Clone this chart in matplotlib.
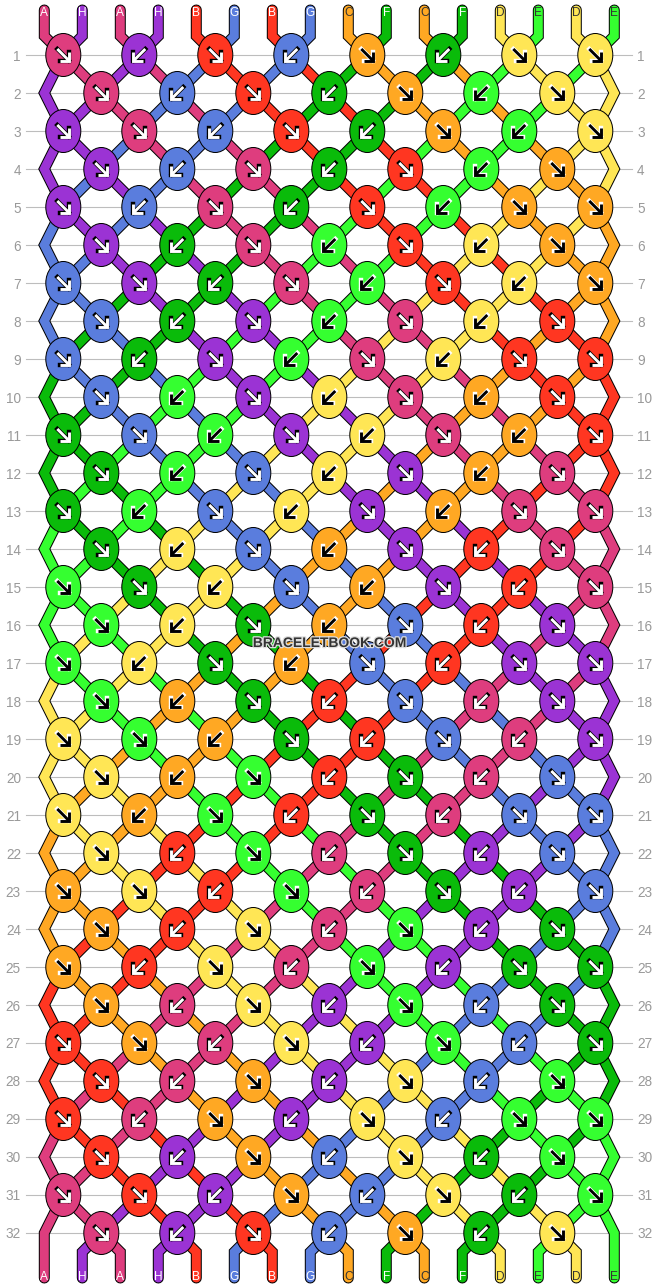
#!/usr/bin/env python3
# -*- coding: utf-8 -*-

import matplotlib
matplotlib.use("Agg")
import matplotlib.pyplot as plt
import matplotlib.patheffects as pe
from matplotlib.patches import Ellipse

WIDTH, HEIGHT = 658, 1288

# strings as they enter at the top
STRINGS = ["A", "H", "A", "H", "B", "G", "B", "G", "C", "F", "C", "F", "D", "E", "D", "E"]

STRING_COLORS = {
    "A": "#de3d7e",
    "H": "#9b33d4",
    "B": "#ff3621",
    "G": "#5a7ddd",
    "C": "#ffa823",
    "F": "#0abb0a",
    "D": "#ffe655",
    "E": "#35ff30",
}
# letters that sit on a light colour get black text and black arrows
LIGHT_STRINGS = ["C", "D", "E"]

# one string per row, ">" is a knot pointing down right, "<" down left
ROW_ARROWS = [
    "><><><>>", "><><><>", ">><><><>", "><><><>",
    "><><><>>", "><><><>", ">><><><>", "><><><>",
    "><><><>>", "><><><>", ">><><><>", "><><><>",
    "><><><>>", "><><><>", ">><><><>", "><><><>",
    "><><><>>", "><><><>", ">><><><>", "><><><>",
    "><><><>>", "><><><>", ">><><><>", "><><><>",
    "><><><>>", "><><><>", ">><><><>", "><><><>",
    "><><><>>", "><><><>", ">><><><>", "><><><>",
]

WATERMARK = "BRACELETBOOK.COM"

# layout in pixels
X0 = 44.3
STEP_X = 38.0
Y0 = 55.0
STEP_Y = 38.0
STRING_W = 9.0
EDGE_W = 1.0
PX = 72.0 / 100.0  # pixels to points at dpi 100


def walk_strings():
    """Follow every string through the knots, returns paths and knots."""
    order = list(range(len(STRINGS)))
    paths = [[(X0 + STEP_X * i, 10.0), (X0 + STEP_X * i, 36.0)] for i in order]
    knots = []
    for r, row in enumerate(ROW_ARROWS):
        y = Y0 + STEP_Y * r
        start = 0 if r % 2 == 0 else 1
        for k, arrow in enumerate(row):
            p = start + 2 * k
            left, right = order[p], order[p + 1]
            x = X0 + STEP_X * (p + 0.5)
            paths[left].append((x, y))
            paths[right].append((x, y))
            top = left if arrow == ">" else right
            knots.append((x, y, STRINGS[top], arrow))
            order[p], order[p + 1] = right, left
        if start == 1:
            paths[order[0]].append((X0, y))
            paths[order[-1]].append((X0 + STEP_X * (len(STRINGS) - 1), y))
    return order, paths, knots


def draw_grid(ax):
    for r in range(len(ROW_ARROWS)):
        y = Y0 + STEP_Y * r
        ax.plot([26, 632], [y, y], color="#bdbdbd", lw=1.1 * PX, zorder=1)
        ax.text(21, y, str(r + 1), ha="right", va="center_baseline", color="#999999",
                fontsize=9.8, zorder=1)
        ax.text(637, y, str(r + 1), ha="left", va="center_baseline", color="#999999",
                fontsize=9.8, zorder=1)


def draw_arrow(ax, x, y, arrow, letter):
    s = 1 if arrow == ">" else -1
    light = letter in LIGHT_STRINGS
    fill = "black" if light else "white"
    halo = "white" if light else "black"
    parts = (
        ([x - s * 6, x + s * 5.5], [y - 6, y + 5.5]),
        ([x - s * 3.5, x + s * 6, x + s * 6], [y + 6, y + 6, y - 3.5]),
    )
    # halo first so it never cuts through the white or black fill
    for xs, ys in parts:
        ax.plot(xs, ys, color=halo, lw=4.4 * PX, zorder=5,
                solid_capstyle="projecting", solid_joinstyle="miter")
    for xs, ys in parts:
        ax.plot(xs, ys, color=fill, lw=2.9 * PX, zorder=6,
                solid_capstyle="butt", solid_joinstyle="miter")


def draw_chart():
    fig = plt.figure(figsize=(WIDTH / 100, HEIGHT / 100), dpi=100)
    ax = fig.add_axes([0, 0, 1, 1])
    ax.set_xlim(0, WIDTH)
    ax.set_ylim(HEIGHT, 0)
    ax.axis("off")

    plt.rcParams["font.family"] = ["Liberation Sans", "DejaVu Sans"]

    order, paths, knots = walk_strings()
    last_y = Y0 + STEP_Y * (len(ROW_ARROWS) - 1)

    # tails below the last row
    for p, s in enumerate(order):
        x = X0 + STEP_X * p
        if 0 < p < len(order) - 1:
            paths[s].append((x, last_y + 19))
        paths[s].append((x, 1278))

    draw_grid(ax)

    for s, path in enumerate(paths):
        xs = [pt[0] for pt in path]
        ys = [pt[1] for pt in path]
        ax.plot(xs, ys, color="black", lw=(STRING_W + 2 * EDGE_W) * PX, zorder=2,
                solid_capstyle="round", solid_joinstyle="miter")
        ax.plot(xs, ys, color=STRING_COLORS[STRINGS[s]], lw=STRING_W * PX, zorder=3,
                solid_capstyle="round", solid_joinstyle="miter")

    for x, y, letter, arrow in knots:
        ax.add_patch(Ellipse((x, y), 35, 43, facecolor=STRING_COLORS[letter],
                             edgecolor="black", lw=1.0 * PX, zorder=4))
        draw_arrow(ax, x, y, arrow, letter)

    # string letters, top and bottom
    for p, letter in enumerate(STRINGS):
        color = "#333333" if letter in LIGHT_STRINGS else "white"
        ax.text(X0 + STEP_X * p, 12.5, letter, ha="center", va="center", color=color,
                fontsize=8.6, zorder=7)
    for p, s in enumerate(order):
        letter = STRINGS[s]
        color = "#333333" if letter in LIGHT_STRINGS else "white"
        ax.text(X0 + STEP_X * p, 1276.5, letter, ha="center", va="center", color=color,
                fontsize=8.6, zorder=7)

    mark = ax.text(329.5, 643, WATERMARK, ha="center", va="center", color="#333333",
                   fontsize=10, fontweight="bold", zorder=8)
    mark.set_path_effects([pe.Stroke(linewidth=1.8, foreground="#dddddd"), pe.Normal()])

    fig.savefig("out.png", dpi=100)
    plt.close(fig)


def main():
    draw_chart()


if __name__ == "__main__":
    main()
